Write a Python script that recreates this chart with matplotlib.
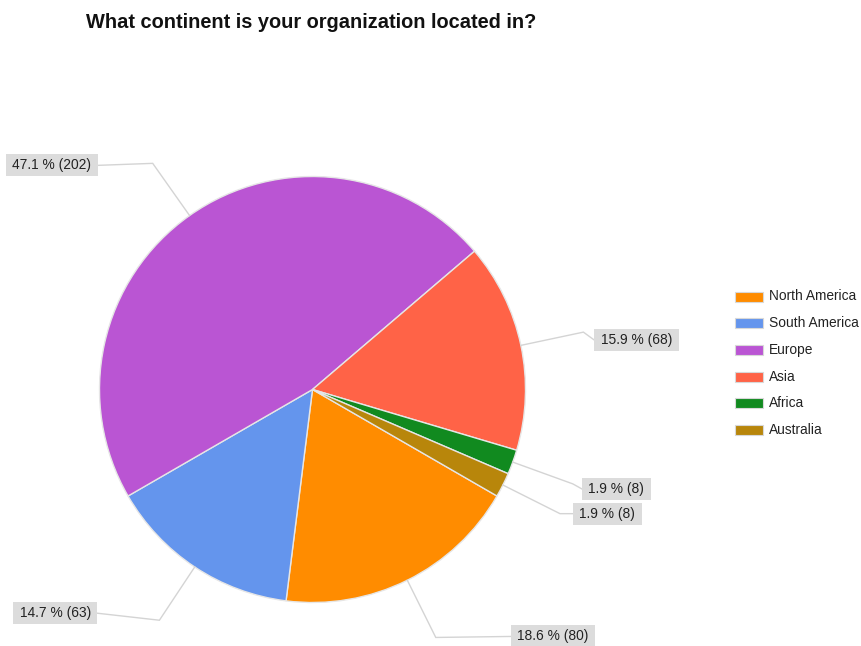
import numpy as np
import matplotlib.pyplot as plt
from matplotlib.patches import Rectangle

# Survey answers
continents = ["North America", "South America", "Europe", "Asia", "Africa", "Australia"]
counts = [80, 63, 202, 68, 8, 8]
colors = ["#FF8C00", "#6495ED", "#BA55D3", "#FF6347", "#118A1F", "#B8860B"]
title = "What continent is your organization located in?"

W, H = 861, 646
fig = plt.figure(figsize=(W / 100, H / 100), dpi=100)
ax = fig.add_axes([0, 0, 1, 1])

cx, cy, R = 312.5, H - 389.5, 213
wedges, _ = ax.pie(counts, colors=colors, startangle=-30, counterclock=False,
                   center=(cx, cy), radius=R, frame=True,
                   wedgeprops=dict(edgecolor="#e6e6e6", linewidth=1.0))
ax.set_xlim(0, W)
ax.set_ylim(0, H)
ax.set_aspect("equal")
ax.axis("off")

total = sum(counts)
# callout layout: side, horizontal run of the last leader segment (px),
# and vertical shift of the label box from the elbow (px, up positive)
label_side = [1, -1, -1, 1, 1, 1]
leader_run = [75, 62, 55, 11, 9, 13]
label_shift = [1, 7, -2, -8, -5, 0]
label_font = dict(family="Liberation Sans", size=9.9, color="#222222")

fig.canvas.draw()
renderer = fig.canvas.get_renderer()
inv = ax.transData.inverted()

for w, n, side, run, sh in zip(wedges, counts, label_side, leader_run, label_shift):
    mid = np.deg2rad((w.theta1 + w.theta2) / 2)
    p0 = (cx + R * np.cos(mid), cy + R * np.sin(mid))
    p1 = (cx + 1.3 * R * np.cos(mid), cy + 1.3 * R * np.sin(mid))
    p2 = (p1[0] + side * run, p1[1] + sh)
    ax.plot([p0[0], p1[0], p2[0]], [p0[1], p1[1], p2[1]],
            color="#d4d4d4", lw=1.0, solid_joinstyle="miter", zorder=2)
    txt = f"{100 * n / total:.1f} % ({n})"
    t = ax.text(p2[0] + side * 6.5, p2[1], txt,
                ha="left" if side > 0 else "right", va="center",
                zorder=4, **label_font)
    bb = t.get_window_extent(renderer)
    (x0, _), (x1, _) = inv.transform([[bb.x0, 0], [bb.x1, 0]])
    ax.add_patch(Rectangle((x0 - 6.5, p2[1] - 11), (x1 - x0) + 13, 22,
                           fc="#dcdcdc", ec="none", zorder=3))

# legend
lx, ly0, dy = 735, H - 296.5, 26.7
for i, (name, c) in enumerate(zip(continents, colors)):
    y = ly0 - i * dy
    ax.add_patch(Rectangle((lx, y - 5), 28, 10, fc=c, ec="#d8d8d8", lw=0.8))
    ax.text(lx + 34, y, name, ha="left", va="center", **label_font)

fig.text(86 / W, 1 - 23 / H, title, ha="left", va="center",
         family="Liberation Sans", weight="bold", size=14.4, color="#111111")

fig.savefig("out.png", dpi=100, facecolor="white")
